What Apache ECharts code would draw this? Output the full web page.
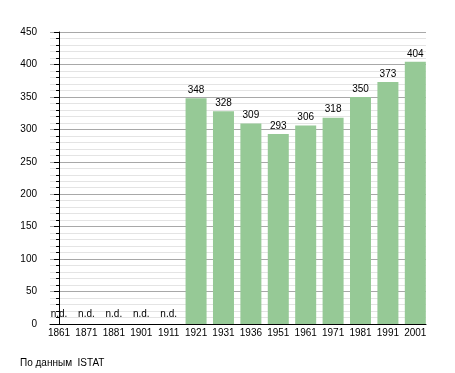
<!DOCTYPE html>
<html><head><meta charset="utf-8">
<script src="https://cdn.jsdelivr.net/npm/echarts@6/dist/echarts.min.js"></script>
<style>html,body{margin:0;padding:0;background:#fff}#c{width:455px;height:373px}</style>
</head><body><div id="c"></div>
<script>
const years = ['1861','1871','1881','1901','1911','1921','1931','1936','1951','1961','1971','1981','1991','2001'];
const population = [null,null,null,null,null,348,328,309,293,306,318,350,373,404];
const ndMarks = [0,0,0,0,0,null,null,null,null,null,null,null,null,null];
const yTicks = [0,50,100,150,200,250,300,350,400,450];
const sourceText = 'По данным  ISTAT';

const idx = years.map((_, i) => i);
const font = '"Liberation Sans", Arial, sans-serif';
const chart = echarts.init(document.getElementById('c'), null, {renderer: 'canvas'});
chart.setOption({
  animation: false,
  grid: {left: 50, right: 29, top: 32, bottom: 49, containLabel: false},
  xAxis: {
    type: 'value', min: -0.33, max: 13.39,
    axisLine: {show: true, onZero: false, lineStyle: {color: '#000', width: 1}},
    axisTick: {show: false},
    splitLine: {show: false},
    axisLabel: {
      customValues: idx, margin: 4, fontSize: 10, color: '#000', fontFamily: font,
      formatter: v => years[Math.round(v)]
    }
  },
  yAxis: {
    type: 'value', min: yTicks[0], max: yTicks[yTicks.length - 1], interval: 50,
    axisLine: {show: true, lineStyle: {color: '#000', width: 1}},
    axisTick: {show: true, length: 5, lineStyle: {color: '#000'}},
    minorTick: {show: true, splitNumber: 5, length: 3, lineStyle: {color: '#000'}},
    splitLine: {show: true, lineStyle: {color: '#a8a8a8', width: 1}},
    minorSplitLine: {show: true, lineStyle: {color: '#e4e4e4', width: 1}},
    axisLabel: {margin: 13, fontSize: 10, color: '#000', fontFamily: font}
  },
  series: [
    {
      type: 'bar', barWidth: 21,
      data: idx.map(i => [i, population[i]]),
      itemStyle: {color: '#96c996'},
      label: {show: true, position: 'top', distance: 3, fontSize: 10, color: '#000', fontFamily: font,
        formatter: p => p.value[1]}
    },
    {
      type: 'bar', barWidth: 21, barGap: '-100%',
      data: idx.map(i => [i, ndMarks[i]]),
      itemStyle: {color: 'transparent'},
      label: {show: true, position: 'top', distance: 5, fontSize: 10, color: '#000', fontFamily: font,
        formatter: 'n.d.'}
    }
  ],
  graphic: [{
    type: 'text', left: 20, top: 358,
    style: {text: sourceText, fontSize: 10, fill: '#000', fontFamily: font}
  }]
});
</script></body></html>
